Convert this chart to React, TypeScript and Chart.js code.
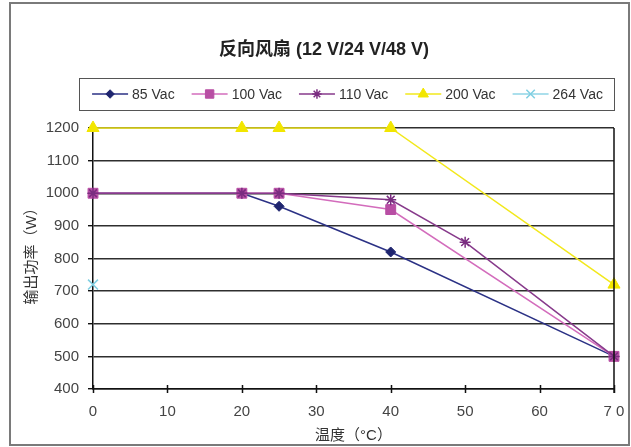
import { useEffect, useRef } from 'react';
import { Chart, registerables } from 'chart.js';
import { drawPoint } from 'chart.js/helpers';

Chart.register(...registerables);

const WIDTH = 631;
const HEIGHT = 447;
const FONT = "'Liberation Sans', 'Noto Sans CJK SC', Arial, sans-serif";

const chartTitle = '反向风扇 (12 V/24 V/48 V)';
const xTitle = '温度（°C）';
const yTitle = '输出功率（W）';

// temperature (°C) / output power (W) per input voltage
const temps85 = [0, 20, 25, 40, 70];
const watts85 = [1000, 1000, 960, 820, 500];

const temps100 = [0, 20, 25, 40, 70];
const watts100 = [1000, 1000, 1000, 950, 500];

const temps110 = [0, 20, 25, 40, 50, 70];
const watts110 = [1000, 1000, 1000, 980, 850, 500];

const temps200 = [0, 20, 25, 40, 70];
const watts200 = [1200, 1200, 1200, 1200, 720];

const temps264 = [0];
const watts264 = [720];

const xMin = 0;
const xMax = 70;
const xStep = 10;
const yMin = 400;
const yMax = 1200;
const yStep = 100;

const pts = (xs: number[], ys: number[]) => xs.map((x, i) => ({ x, y: ys[i] }));

type SeriesStyle = {
  label: string;
  xs: number[];
  ys: number[];
  line: string;
  marker: string;
  pointStyle: string;
  radius: number;
  markerBorder: number;
};

const series: SeriesStyle[] = [
  { label: '85 Vac', xs: temps85, ys: watts85, line: '#2b3185', marker: '#1f256f', pointStyle: 'rectRot', radius: 5, markerBorder: 1 },
  { label: '100 Vac', xs: temps100, ys: watts100, line: '#d36cbc', marker: '#b84ea4', pointStyle: 'rect', radius: 7, markerBorder: 1 },
  { label: '110 Vac', xs: temps110, ys: watts110, line: '#873a8b', marker: '#7a2d80', pointStyle: 'star', radius: 5.5, markerBorder: 1.5 },
  { label: '200 Vac', xs: temps200, ys: watts200, line: '#f2e81c', marker: '#f2e600', pointStyle: 'triangle', radius: 7, markerBorder: 1 },
  { label: '264 Vac', xs: temps264, ys: watts264, line: '#8fd5e6', marker: '#7fcfe2', pointStyle: 'crossRot', radius: 7, markerBorder: 1.5 },
];

// outer frame, titles, right plot border and crossing x tick marks
const framePlugin = {
  id: 'frame',
  beforeDraw(chart: any) {
    const { ctx, chartArea } = chart;
    ctx.save();
    ctx.strokeStyle = '#7a7a7a';
    ctx.lineWidth = 2;
    ctx.strokeRect(10, 3, WIDTH - 12, HEIGHT - 5);
    ctx.fillStyle = '#222';
    ctx.font = `bold 18px ${FONT}`;
    ctx.textAlign = 'center';
    ctx.textBaseline = 'middle';
    ctx.fillText(chartTitle, 324, 50);

    // vertical axis title, slightly above the plot's middle
    ctx.fillStyle = '#333';
    ctx.font = `15px ${FONT}`;
    ctx.translate(32, (chartArea.top + chartArea.bottom) / 2 - 6);
    ctx.rotate(-Math.PI / 2);
    ctx.fillText(yTitle, 0, 0);
    ctx.restore();
  },
  afterDraw(chart: any) {
    const { ctx, chartArea } = chart;
    const xs = chart.scales.x;
    ctx.save();
    ctx.strokeStyle = '#111';
    ctx.lineWidth = 1.5;
    ctx.beginPath();
    ctx.moveTo(chartArea.right, chartArea.top);
    ctx.lineTo(chartArea.right, chartArea.bottom + 4);
    for (let v = xMin; v <= xMax; v += xStep) {
      const px = Math.round(xs.getPixelForValue(v)) + 0.5;
      ctx.moveTo(px, chartArea.bottom - 4);
      ctx.lineTo(px, chartArea.bottom + 4);
    }
    ctx.stroke();
    ctx.restore();
  },
};

// boxed legend with line-and-marker keys
const legendBoxPlugin = {
  id: 'legendBox',
  afterDraw(chart: any) {
    const { ctx, chartArea } = chart;
    const left = chartArea.left - 14;
    const right = chartArea.right;
    const top = 78;
    const bottom = 110;
    const midY = (top + bottom) / 2;
    ctx.save();
    ctx.strokeStyle = '#555';
    ctx.lineWidth = 1;
    ctx.strokeRect(left + 0.5, top + 0.5, right - left, bottom - top);

    ctx.font = `14px ${FONT}`;
    const lineLen = 36;
    const textGap = 4;
    const itemGap = 17;
    const widths = series.map((s) => ctx.measureText(s.label).width);
    const total = widths.reduce((a, w) => a + lineLen + textGap + w, 0) + itemGap * (series.length - 1);
    let x = (left + right) / 2 - total / 2 + 1;
    series.forEach((s, i) => {
      ctx.strokeStyle = s.line;
      ctx.lineWidth = 1.5;
      ctx.beginPath();
      ctx.moveTo(x, midY);
      ctx.lineTo(x + lineLen, midY);
      ctx.stroke();
      ctx.fillStyle = s.marker;
      ctx.strokeStyle = s.marker;
      ctx.lineWidth = s.markerBorder;
      drawPoint(ctx, { pointStyle: s.pointStyle as any, radius: s.radius * 0.85, rotation: 0, borderWidth: s.markerBorder }, x + lineLen / 2, midY);
      ctx.fillStyle = '#333';
      ctx.textBaseline = 'middle';
      ctx.textAlign = 'left';
      ctx.fillText(s.label, x + lineLen + textGap, midY + 1);
      x += lineLen + textGap + widths[i] + itemGap;
    });
    ctx.restore();
  },
};

export default function App() {
  const canvasRef = useRef<HTMLCanvasElement | null>(null);

  useEffect(() => {
    const canvas = canvasRef.current;
    if (!canvas) return;
    const chart = new Chart(canvas, {
      type: 'line',
      data: {
        datasets: series.map((s, i) => ({
          label: s.label,
          data: pts(s.xs, s.ys),
          order: series.length - i,
          borderColor: s.line,
          backgroundColor: s.marker,
          borderWidth: 1.5,
          pointStyle: s.pointStyle as any,
          pointRadius: s.radius,
          pointBorderColor: s.marker,
          pointBackgroundColor: s.marker,
          pointBorderWidth: s.markerBorder,
          pointHoverRadius: s.radius,
          tension: 0,
          fill: false,
          clip: false as any,
        })),
      },
      options: {
        responsive: false,
        animation: false,
        devicePixelRatio: 1,
        layout: { padding: { left: 19, right: 17, top: 128, bottom: 4 } },
        plugins: {
          legend: { display: false },
          tooltip: { enabled: false },
          title: { display: false },
        },
        scales: {
          x: {
            type: 'linear',
            min: xMin,
            max: xMax,
            afterFit: (scale: any) => {
              scale.height = 54;
              scale.paddingLeft = 0;
              scale.paddingRight = 0;
            },
            ticks: {
              stepSize: xStep,
              color: '#444',
              font: { family: FONT, size: 15 },
              padding: 14,
              maxRotation: 0,
              callback: (v: any) => (Number(v) === 70 ? '7 0' : String(v)),
            },
            grid: { drawOnChartArea: false, drawTicks: false },
            border: { display: true, color: '#111', width: 1.5 },
            title: {
              display: true,
              text: xTitle,
              color: '#333',
              font: { family: FONT, size: 15, lineHeight: 1 },
              padding: { top: 0, bottom: 0 },
            },
          },
          y: {
            type: 'linear',
            min: yMin,
            max: yMax,
            afterFit: (scale: any) => {
              scale.width = 74;
              scale.paddingTop = 0;
              scale.paddingBottom = 0;
            },
            ticks: {
              stepSize: yStep,
              color: '#444',
              font: { family: FONT, size: 15 },
              padding: 9,
              callback: (v: any) => String(v),
            },
            grid: {
              color: '#2e2e2e',
              lineWidth: 1.4,
              drawTicks: true,
              tickLength: 5,
              tickColor: '#111',
            },
            border: { display: true, color: '#111', width: 1.5 },
            title: { display: false },
          },
        },
      },
      plugins: [framePlugin, legendBoxPlugin],
    });
    return () => chart.destroy();
  }, []);

  return (
    <div style={{ position: 'fixed', left: 0, top: 0, width: WIDTH, height: HEIGHT, background: '#fff' }}>
      <canvas ref={canvasRef} width={WIDTH} height={HEIGHT} style={{ width: WIDTH, height: HEIGHT, display: 'block' }} />
    </div>
  );
}
